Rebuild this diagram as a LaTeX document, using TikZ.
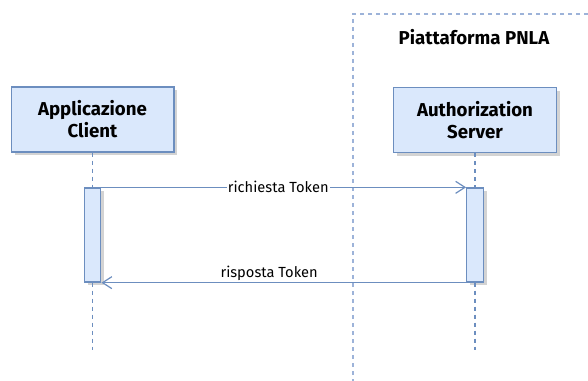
\documentclass[tikz,border=0pt]{standalone}
\usepackage{fontspec}
\setmainfont{Fira Sans}
\usetikzlibrary{shadows,arrows.meta}
\definecolor{boxfill}{HTML}{DAE8FC}
\definecolor{boxline}{HTML}{6C8EBF}
\definecolor{frameline}{HTML}{9DB3D9}

\begin{document}
\begin{tikzpicture}[x=0.75pt,y=-0.75pt,
    actor/.style={draw=boxline,fill=boxfill,line width=1pt,minimum width=122pt,minimum height=48.75pt,
      align=center,font=\fontsize{14}{16.5}\selectfont\bfseries,
      drop shadow={shadow xshift=2.5pt,shadow yshift=-2.5pt,opacity=0.35}},
    act/.style={draw=boxline,fill=boxfill,line width=1pt,minimum width=12.4pt,minimum height=70.5pt,
      inner sep=0pt,drop shadow={shadow xshift=2.5pt,shadow yshift=-2.5pt,opacity=0.35}},
    life/.style={draw=boxline,line width=1.2pt,dash pattern=on 3pt off 3pt},
    msg/.style={draw=boxline,line width=0.9pt,-{Straight Barb[length=7pt,width=9pt]}},
    lbl/.style={font=\fontsize{11}{13}\selectfont,fill=white,inner sep=1pt}]
    \useasboundingbox (0,0) rectangle (588,381);
    \draw[frameline,line width=1.2pt,dash pattern=on 3pt off 3pt] (588,14) -- (353,14) -- (353,381);
    \node[font=\fontsize{14}{16.5}\selectfont\bfseries] at (474,37) {Piattaforma PNLA};
    \node[actor](client) at (92.5,119.5){Applicazione\\Client};
    \node[actor](server) at (475,120){Authorization\\Server};
    \node[act](cact) at (92.5,235){};
    \node[act](sact) at (475,235){};
    \coordinate (cend) at (92.5,350);
    \coordinate (send) at (475,350);
    \draw[life] (client) -- (cact);
    \draw[life] (cact) -- (cend);
    \draw[life] (server) -- (sact);
    \draw[life] (sact) -- (send);
    \draw[msg] (cact.north east) -- (sact.north west) node[pos=0.485,lbl]{richiesta Token};
    \draw[msg] (sact.south west) -- (cact.south east) node[pos=0.54,lbl,above,fill=none]{risposta Token};
\end{tikzpicture}
\end{document}
